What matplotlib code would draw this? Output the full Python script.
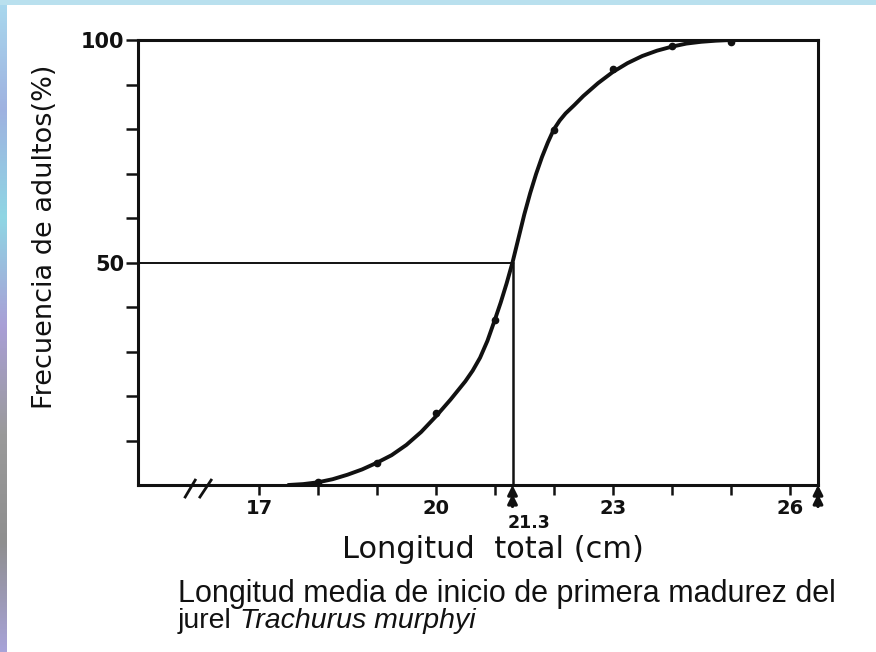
import numpy as np
import matplotlib
matplotlib.use("Agg")
import matplotlib.pyplot as plt
from matplotlib.patches import Rectangle
from matplotlib.colors import LinearSegmentedColormap

# fitted maturity ogive: total length (cm) vs % adults
curve_len = [17.5, 17.75, 18.0, 18.25, 18.5, 18.75, 19.0, 19.25, 19.5, 19.75,
             20.0, 20.25, 20.5, 20.625, 20.75, 20.875, 21.0, 21.1, 21.2, 21.3,
             21.4, 21.5, 21.6, 21.7, 21.8, 21.9, 22.0, 22.1, 22.2, 22.35,
             22.5, 22.75, 23.0, 23.25, 23.5, 23.75, 24.0, 24.25, 24.5, 24.75,
             25.0, 26.48]
curve_pct = [0.0, 0.2, 0.6, 1.3, 2.3, 3.5, 5.0, 6.7, 9.0, 11.9,
             15.4, 19.2, 23.3, 25.7, 28.6, 32.4, 37.1, 41.0, 45.3, 50.0,
             55.4, 60.8, 65.6, 69.9, 73.7, 77.0, 79.9, 81.9, 83.5, 85.4,
             87.4, 90.3, 92.8, 94.8, 96.4, 97.6, 98.5, 99.2, 99.6, 99.85,
             100.0, 100.0]

# observed proportions (dots)
obs_len = [18, 19, 20, 21, 22, 23, 24, 25]
obs_pct = [0.6, 5.0, 16.1, 37.1, 79.8, 93.4, 98.7, 99.6]

l50 = 21.3
x_ticks = list(range(17, 27))
x_labels = ["17", "", "", "20", "", "", "23", "", "", "26"]
y_ticks = list(range(10, 101, 10))
y_labels = ["", "", "", "", "50", "", "", "", "", "100"]

ink = "#111111"
plt.rcParams["font.family"] = ["DejaVu Sans"]

fig = plt.figure(figsize=(8.76, 6.52), dpi=100)

# scanned slide edges
edge = LinearSegmentedColormap.from_list(
    "edge", ["#a9d9ee", "#9fb2e0", "#8fd6e4", "#a99fd6", "#9a9a9a", "#8f8f8f", "#a8a3d8"])
strip = fig.add_axes([0, 0, 7 / 876, 1])
strip.imshow(np.linspace(0, 1, 256)[:, None], cmap=edge, aspect="auto")
strip.axis("off")
fig.add_artist(Rectangle((0, 1 - 5 / 652), 1, 5 / 652, transform=fig.transFigure,
                         color="#b9e0ee", lw=0))

ax = fig.add_axes([138 / 876, 1 - 485 / 652, 680 / 876, 445 / 652])
ax.set_xlim(14.95, 26.48)
ax.set_ylim(0, 100)

ax.plot(curve_len, curve_pct, color=ink, lw=2.8, solid_capstyle="round",
        solid_joinstyle="round", zorder=3)
ax.plot(obs_len, obs_pct, "o", color=ink, ms=4.5, zorder=4)

# 50 % reference lines
ax.plot([14.95, l50], [50, 50], color=ink, lw=1.4)
ax.plot([l50, l50], [0, 50], color=ink, lw=1.8)

for s in ax.spines.values():
    s.set_linewidth(2.2)
    s.set_color(ink)

ax.set_xticks(x_ticks)
ax.set_xticklabels(x_labels)
ax.set_yticks(y_ticks)
ax.set_yticklabels(y_labels)
ax.tick_params(axis="x", direction="out", length=7, width=1.8, color=ink,
               labelsize=14, pad=3, labelcolor=ink)
ax.tick_params(axis="y", direction="out", length=9, width=1.8, color=ink,
               labelsize=15, pad=1, labelcolor=ink)
for lab in ax.get_xticklabels() + ax.get_yticklabels():
    lab.set_fontweight("bold")

# arrows under the axis
for xa in [l50, 26.48]:
    for ya in [0, -2.0]:
        ax.annotate("", xy=(xa, ya), xytext=(xa, -4.8),
                    arrowprops=dict(arrowstyle="-|>", color=ink, lw=2.2,
                                    mutation_scale=14, shrinkA=0, shrinkB=0),
                    annotation_clip=False)
ax.annotate("21.3", xy=(l50, 0), xytext=(12, -27), textcoords="offset points",
            ha="center", va="center", fontsize=12.5, fontweight="bold", color=ink,
            annotation_clip=False)

# axis break marks
ax.plot([15.75, 15.92], [-2.7, 1.1], color=ink, lw=2.0, clip_on=False)
ax.plot([16.0, 16.19], [-2.7, 1.1], color=ink, lw=2.0, clip_on=False)

ax.text(0.522, -0.144, "Longitud  total (cm)", transform=ax.transAxes,
        ha="center", va="center", fontsize=22, color=ink)
ax.text(-0.137, 0.557, "Frecuencia de adultos(%)", transform=ax.transAxes,
        rotation=90, ha="center", va="center", fontsize=19.5, color=ink)

# caption
fig.text(178 / 876, 1 - 602 / 652, "Longitud media de inicio de primera madurez del",
         ha="left", va="baseline", fontsize=22, color=ink, family=["Liberation Sans"])
cap2 = dict(fontsize=20.5, color=ink, family=["Liberation Sans"])
t1 = fig.text(178 / 876, 1 - 628 / 652, "jurel ", ha="left", va="baseline", **cap2)
ax.annotate("Trachurus murphyi", xy=(1, 0), xycoords=t1, ha="left", va="bottom",
            style="italic", **cap2)

fig.savefig("out.png", dpi=100, facecolor="white")
